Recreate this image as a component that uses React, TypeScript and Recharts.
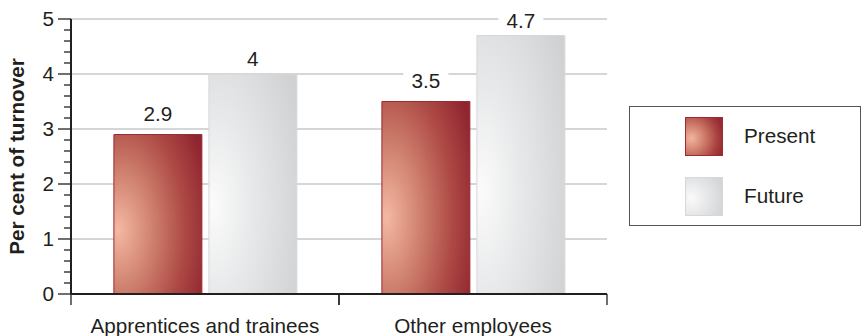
import { Bar, BarChart, CartesianGrid, LabelList, XAxis, YAxis } from "recharts";

const CATEGORIES = ["Apprentices and trainees", "Other employees"];
const PRESENT = [2.9, 3.5];
const FUTURE = [4, 4.7];
const Y_MAJOR = [0, 1, 2, 3, 4, 5];
const Y_TICKS = [0, 0.2, 0.4, 0.6, 0.8, 1, 1.2, 1.4, 1.6, 1.8, 2, 2.2, 2.4, 2.6, 2.8, 3, 3.2, 3.4, 3.6, 3.8, 4, 4.2, 4.4, 4.6, 4.8, 5];

const data = CATEGORIES.map((name, i) => ({ name, present: PRESENT[i], future: FUTURE[i] }));

const FONT = "'Liberation Sans', Arial, Helvetica, sans-serif";
const INK = "#231f20";
const FS = 20.7;

function YTick(props: any) {
  const { x, y, payload } = props;
  const major = Y_MAJOR.includes(payload.value);
  return (
    <g>
      <line x1={x - (major ? 13 : 7)} x2={x} y1={y} y2={y} stroke={INK} strokeWidth={1.3} />
      {major && (
        <text x={x - 17} y={y + 7} textAnchor="end" fontSize={FS} fill={INK} fontFamily={FONT}>
          {payload.value}
        </text>
      )}
    </g>
  );
}

function XTick(props: any) {
  const { x, y, payload } = props;
  const half = payload.offset ?? 134;
  return (
    <g>
      <line x1={x - half} x2={x - half} y1={y} y2={y + 11} stroke={INK} strokeWidth={1.3} />
      <line x1={x + half} x2={x + half} y1={y} y2={y + 11} stroke={INK} strokeWidth={1.3} />
      <text x={x} y={y + 39} textAnchor="middle" fontSize={FS} fill={INK} fontFamily={FONT}>
        {payload.value}
      </text>
    </g>
  );
}

function YTitle(props: any) {
  const { viewBox } = props;
  const cx = viewBox.x + 24;
  const cy = viewBox.y + viewBox.height / 2;
  return (
    <text
      x={cx}
      y={cy}
      transform={`rotate(-90, ${cx}, ${cy})`}
      textAnchor="middle"
      fontSize={FS}
      fontWeight="bold"
      fill={INK}
      fontFamily={FONT}
    >
      Per cent of turnover
    </text>
  );
}

function makeLabel(gap: number) {
  return (props: any) => {
    const { x, y, width, value } = props;
    const cx = x + width / 2;
    const tw = String(value).length * 11;
    return (
      <g>
        <rect x={cx - tw / 2 - 6} y={y - gap - 18} width={tw + 12} height={22} fill="#fff" />
        <text x={cx} y={y - gap} textAnchor="middle" fontSize={FS} fill={INK} fontFamily={FONT}>
          {value}
        </text>
      </g>
    );
  };
}

function LegendBox() {
  const item = (label: string, bg: string, border: string) => (
    <div style={{ display: "flex", alignItems: "center", height: 38, marginBottom: 22 }}>
      <div style={{ width: 36, height: 37, background: bg, border: `1px solid ${border}`, marginLeft: 55 }} />
      <span style={{ marginLeft: 21, fontSize: FS, color: INK, fontFamily: FONT }}>{label}</span>
    </div>
  );
  return (
    <div
      style={{
        position: "absolute",
        left: 629,
        top: 106,
        width: 232,
        height: 120,
        border: "1px solid #555",
        boxSizing: "border-box",
        paddingTop: 10,
        background: "#fff",
      }}
    >
      {item("Present", "radial-gradient(ellipse 90% 90% at 15% 55%, #f3b5a0 0%, #cf7d6b 40%, #a9413f 80%, #962c33 100%)", "#9b2b33")}
      {item("Future", "radial-gradient(ellipse 90% 90% at 15% 55%, #fafafa 0%, #e6e7e8 50%, #d3d5d7 100%)", "#d6d8da")}
    </div>
  );
}

export default function App() {
  return (
    <div style={{ position: "absolute", left: 0, top: 0, width: 862, height: 336, background: "#fff" }}>
      <BarChart
        width={862}
        height={336}
        data={data}
        margin={{ top: 19, right: 255, bottom: 12, left: 0 }}
        barCategoryGap="16%"
        barGap={7}
      >
        <defs>
          <radialGradient id="gradPresent" cx="0.12" cy="0.6" r="1" fx="0.05" fy="0.6">
            <stop offset="0%" stopColor="#f4b8a3" />
            <stop offset="35%" stopColor="#d08370" />
            <stop offset="70%" stopColor="#ae4a45" />
            <stop offset="100%" stopColor="#8f2530" />
          </radialGradient>
          <radialGradient id="gradFuture" cx="0.12" cy="0.6" r="1" fx="0.05" fy="0.6">
            <stop offset="0%" stopColor="#fbfbfb" />
            <stop offset="40%" stopColor="#e8e9ea" />
            <stop offset="100%" stopColor="#cfd1d3" />
          </radialGradient>
        </defs>
        <CartesianGrid
          vertical={false}
          horizontalValues={[1, 2, 3, 4, 5]}
          stroke="#c9c9c9"
          strokeWidth={1.5}
        />
        <XAxis
          dataKey="name"
          height={30}
          tick={<XTick />}
          tickLine={false}
          tickSize={0}
          tickMargin={0}
          axisLine={{ stroke: INK, strokeWidth: 2 }}
          interval={0}
        />
        <YAxis
          type="number"
          domain={[0, 5]}
          ticks={Y_TICKS}
          interval={0}
          width={71}
          tick={<YTick />}
          tickLine={false}
          tickSize={0}
          tickMargin={0}
          axisLine={{ stroke: INK, strokeWidth: 2 }}
          label={<YTitle />}
        />
        <Bar dataKey="present" name="Present" fill="url(#gradPresent)" stroke="#9b2b33" strokeWidth={1} isAnimationActive={false}>
          <LabelList dataKey="present" content={makeLabel(14)} />
        </Bar>
        <Bar dataKey="future" name="Future" fill="url(#gradFuture)" stroke="#d6d8da" strokeWidth={1} isAnimationActive={false}>
          <LabelList dataKey="future" content={makeLabel(8)} />
        </Bar>
      </BarChart>
      <LegendBox />
    </div>
  );
}
